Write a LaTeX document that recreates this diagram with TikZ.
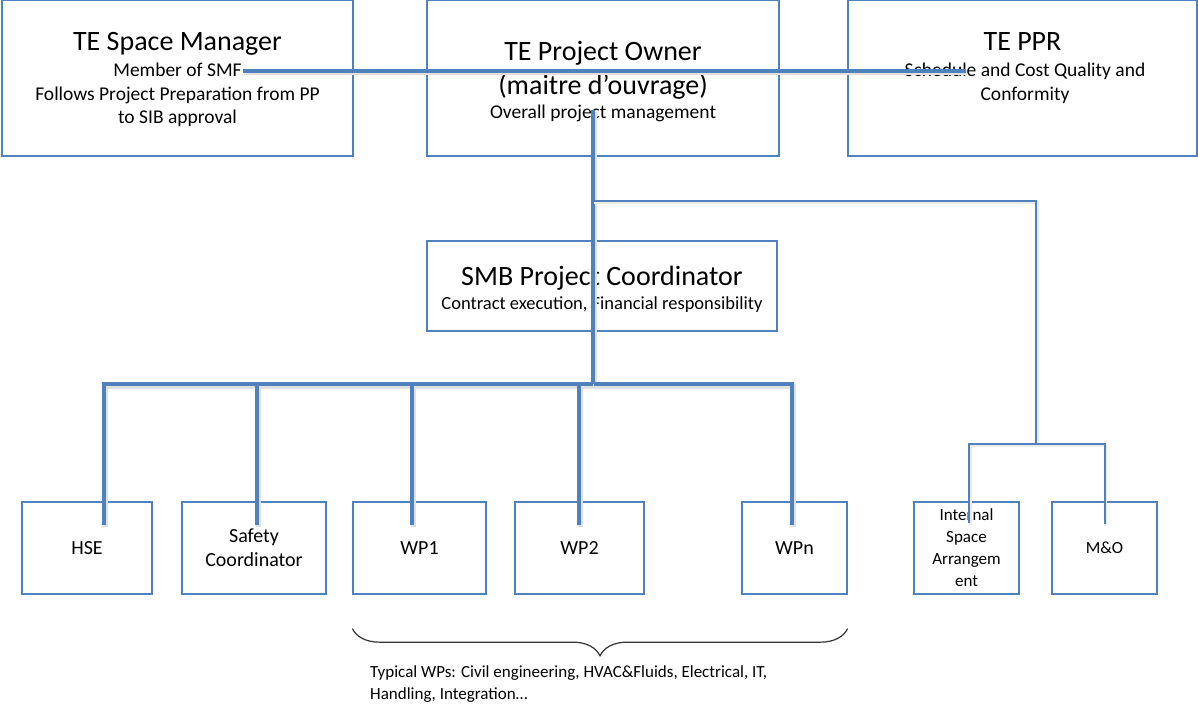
\documentclass[tikz,border=0pt]{standalone}
\usepackage{fontspec}
\setmainfont{Carlito}
\usetikzlibrary{positioning,decorations.pathreplacing}
\definecolor{orgblue}{HTML}{4F81BD}
\newcommand{\ttlsize}{\fontsize{28}{34}\selectfont}
\newcommand{\subsize}{\fontsize{19.5}{23.5}\selectfont}
\newcommand{\boxsize}{\fontsize{20}{24}\selectfont}
\newcommand{\smallsize}{\fontsize{17}{22}\selectfont}

\begin{document}
\begin{tikzpicture}[x=1pt,y=-1pt,
	box/.style={draw=orgblue,line width=1.3pt,inner sep=0,align=center,font=\boxsize,minimum width=#1,minimum height=92},
	ttl/.style={font=\ttlsize,align=center,inner sep=0,anchor=north},
	subt/.style={font=\subsize,align=center,inner sep=0,anchor=north},
	wide/.style={orgblue,line width=4pt,preaction={draw=black!12,line width=5pt,transform canvas={xshift=1pt,yshift=-2pt}}},
	slim/.style={orgblue,line width=2pt,preaction={draw=black!8,line width=3pt,transform canvas={xshift=1pt,yshift=-1.5pt}}}]
	\useasboundingbox (0,0) rectangle (1198,706);
	% top row
	\node[box=351,minimum height=156] (spm) at (177.5,78) {};
	\node[box=352,minimum height=156] (pow) at (603,78) {};
	\node[box=349,minimum height=156] (ppr) at (1022.5,78) {};
	\node[ttl] (spmT) at (177.5,32.5) {TE Space Manager};
	\node[subt] (spmS) at (177.5,63) {Member of SMF\\Follows Project Preparation from PP\\to SIB approval};
	\node[ttl] (powT) at (603,41) {TE Project Owner\\(maitre d’ouvrage)};
	\node[subt] (powS) at (603,105) {Overall project management};
	\node[ttl] (pprT) at (1022.5,32.5) {TE PPR};
	\node[subt] (pprS) at (1025,63) {Schedule and Cost Quality and\\Conformity};
	% coordinator
	\node[box=350,minimum height=90] (smb) at (602,286) {};
	\node[ttl] (smbT) at (602,265.5) {SMB Project Coordinator};
	\node[subt,font=\fontsize{18.5}{22}\selectfont] (smbS) at (602,296) {Contract execution, Financial responsibility};
	% bottom row
	\node[box=130] (hse) at (87,548) {HSE};
	\node[box=144] (sc) at (254,548) {Safety\\Coordinator};
	\node[box=133] (wpa) at (419.5,548) {WP1};
	\node[box=129] (wpb) at (579.5,548) {WP2};
	\node[box=105] (wpn) at (794.5,548) {WPn};
	\node[box=105,font=\smallsize] (isa) at (966.5,548) {Internal\\Space\\Arrangem\\ent};
	\node[box=105,font=\smallsize] (mo) at (1104.5,548) {M\&O};
	% connectors
	\coordinate (smf) at (243,71);
	\coordinate (sched) at (966,71);
	\coordinate (own) at (593,110);
	\coordinate (fork) at (593,201);
	\coordinate (bus) at (593,384);
	\coordinate (mosplit) at (1036,444);
	\draw[wide] (smf) -- (sched);
	\draw[wide] (own) -- (bus);
	\draw[wide] ([xshift=17,yshift=-24]hse.north) |- (bus) -| ([xshift=-2.5,yshift=-24]wpn.north);
	\foreach \nd/\dx in {sc/3,wpa/-7.5,wpb/-0.5}
		\draw[wide] ([xshift=\dx,yshift=-24]\nd.north) |- (bus);
	\draw[slim] (fork) -| (mosplit);
	\draw[slim] ([xshift=2.5,yshift=-22]isa.north) |- (mosplit) -| ([yshift=-23]mo.north);
	% brace under the WPs
	\draw[decorate,decoration={brace,mirror,amplitude=27pt},line width=1.2pt,black!80] ([yshift=-34]wpa.south west) -- ([yshift=-34]wpn.south east);
	\node[inner sep=0,anchor=north west,align=left,font=\smallsize] (typ) at (370,665) {Typical WPs: Civil engineering, HVAC\&Fluids, Electrical, IT,\\Handling, Integration…};
\end{tikzpicture}
\end{document}
